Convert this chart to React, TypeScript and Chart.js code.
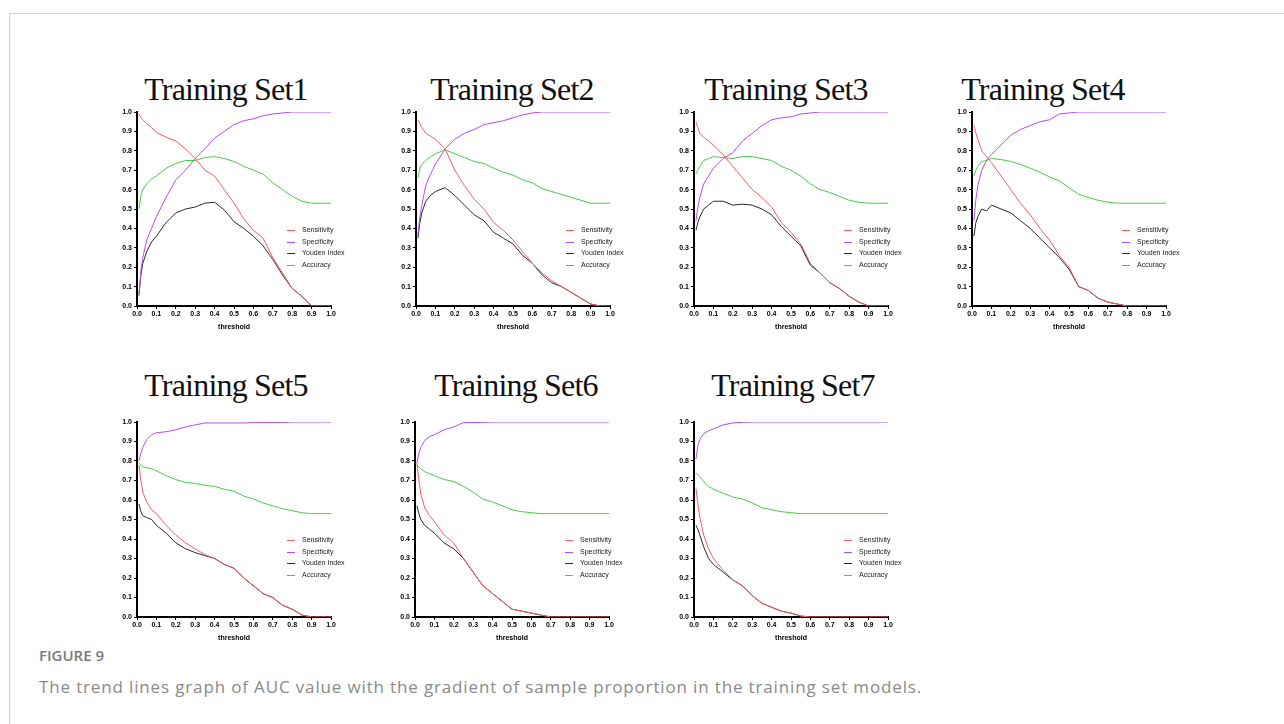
import React, { useEffect, useRef } from "react";
import { Chart, registerables } from "chart.js";

Chart.register(...registerables);

// ---------------- DATA ----------------
const THRESHOLDS = [0.01, 0.02, 0.03, 0.05, 0.075, 0.1, 0.15, 0.2, 0.25, 0.3, 0.35, 0.4, 0.45, 0.5, 0.55, 0.6, 0.65, 0.7, 0.75, 0.8, 0.85, 0.9, 0.95, 1.0];
const X_TICKS = [0, 0.1, 0.2, 0.3, 0.4, 0.5, 0.6, 0.7, 0.8, 0.9, 1.0];
const SERIES_LABELS = ["Sensitivity", "Specificity", "Youden Index", "Accuracy"];
const PANEL_TITLES = ["Training Set1", "Training Set2", "Training Set3", "Training Set4", "Training Set5", "Training Set6", "Training Set7"];

const SET1_SENS = [0.99, 0.97, 0.96, 0.94, 0.92, 0.895, 0.87, 0.85, 0.81, 0.76, 0.70, 0.67, 0.60, 0.53, 0.45, 0.39, 0.35, 0.25, 0.17, 0.09, 0.05, 0.0, 0, 0];
const SET1_SPEC = [0.05, 0.18, 0.25, 0.34, 0.40, 0.46, 0.56, 0.65, 0.70, 0.76, 0.81, 0.866, 0.90, 0.935, 0.955, 0.965, 0.98, 0.99, 0.995, 1, 1, 1, 1, 1];
const SET1_YOUDEN = [0.06, 0.16, 0.22, 0.28, 0.33, 0.36, 0.43, 0.48, 0.50, 0.51, 0.53, 0.535, 0.495, 0.435, 0.40, 0.36, 0.31, 0.24, 0.16, 0.09, 0.05, 0, 0, 0];
const SET1_ACC = [0.50, 0.57, 0.60, 0.63, 0.655, 0.67, 0.71, 0.735, 0.75, 0.75, 0.765, 0.77, 0.76, 0.745, 0.72, 0.70, 0.68, 0.635, 0.60, 0.565, 0.54, 0.53, 0.53, 0.53];

const SET2_SENS = [0.96, 0.94, 0.92, 0.89, 0.875, 0.86, 0.81, 0.70, 0.62, 0.55, 0.50, 0.43, 0.39, 0.34, 0.28, 0.22, 0.17, 0.13, 0.10, 0.07, 0.04, 0.01, 0, 0];
const SET2_SPEC = [0.37, 0.46, 0.52, 0.62, 0.68, 0.73, 0.81, 0.86, 0.89, 0.91, 0.935, 0.945, 0.955, 0.97, 0.985, 0.995, 1, 1, 1, 1, 1, 1, 1, 1];
const SET2_YOUDEN = [0.35, 0.43, 0.48, 0.54, 0.57, 0.59, 0.61, 0.57, 0.52, 0.47, 0.44, 0.38, 0.35, 0.32, 0.26, 0.22, 0.16, 0.12, 0.10, 0.07, 0.04, 0.01, 0, 0];
const SET2_ACC = [0.66, 0.71, 0.73, 0.75, 0.77, 0.785, 0.805, 0.785, 0.765, 0.745, 0.735, 0.71, 0.69, 0.675, 0.65, 0.635, 0.605, 0.59, 0.575, 0.56, 0.545, 0.53, 0.53, 0.53];

const SET3_SENS = [0.95, 0.92, 0.89, 0.87, 0.85, 0.83, 0.78, 0.72, 0.66, 0.60, 0.56, 0.51, 0.43, 0.38, 0.32, 0.22, 0.17, 0.12, 0.09, 0.05, 0.02, 0, 0, 0];
const SET3_SPEC = [0.44, 0.51, 0.56, 0.63, 0.67, 0.71, 0.76, 0.79, 0.85, 0.89, 0.93, 0.96, 0.97, 0.975, 0.99, 0.995, 1, 1, 1, 1, 1, 1, 1, 1];
const SET3_YOUDEN = [0.39, 0.43, 0.46, 0.50, 0.52, 0.54, 0.54, 0.52, 0.525, 0.52, 0.50, 0.47, 0.41, 0.36, 0.31, 0.21, 0.17, 0.12, 0.09, 0.05, 0.02, 0, 0, 0];
const SET3_ACC = [0.68, 0.70, 0.72, 0.75, 0.76, 0.77, 0.765, 0.76, 0.77, 0.77, 0.76, 0.75, 0.72, 0.70, 0.67, 0.63, 0.60, 0.585, 0.565, 0.545, 0.535, 0.53, 0.53, 0.53];

const SET4_SENS = [0.93, 0.89, 0.86, 0.80, 0.77, 0.74, 0.67, 0.60, 0.53, 0.47, 0.40, 0.34, 0.26, 0.20, 0.10, 0.08, 0.04, 0.02, 0.01, 0, 0, 0, 0, 0];
const SET4_SPEC = [0.44, 0.55, 0.62, 0.70, 0.75, 0.78, 0.83, 0.88, 0.91, 0.93, 0.95, 0.96, 0.99, 0.995, 1, 1, 1, 1, 1, 1, 1, 1, 1, 1];
const SET4_YOUDEN = [0.36, 0.43, 0.46, 0.50, 0.49, 0.52, 0.50, 0.48, 0.44, 0.40, 0.35, 0.30, 0.25, 0.19, 0.10, 0.08, 0.04, 0.02, 0.01, 0, 0, 0, 0, 0];
const SET4_ACC = [0.67, 0.70, 0.72, 0.745, 0.75, 0.76, 0.755, 0.745, 0.73, 0.71, 0.69, 0.665, 0.645, 0.61, 0.575, 0.56, 0.545, 0.535, 0.53, 0.53, 0.53, 0.53, 0.53, 0.53];

const SET5_SENS = [0.78, 0.70, 0.64, 0.59, 0.55, 0.53, 0.47, 0.42, 0.38, 0.35, 0.32, 0.30, 0.27, 0.25, 0.20, 0.16, 0.12, 0.10, 0.06, 0.04, 0.01, 0, 0, 0];
const SET5_SPEC = [0.80, 0.84, 0.87, 0.91, 0.935, 0.945, 0.95, 0.96, 0.975, 0.985, 0.995, 0.995, 0.995, 0.995, 0.995, 0.997, 0.997, 0.997, 0.997, 1, 1, 1, 1, 1];
const SET5_YOUDEN = [0.58, 0.54, 0.52, 0.51, 0.50, 0.47, 0.43, 0.38, 0.35, 0.33, 0.315, 0.30, 0.27, 0.25, 0.20, 0.16, 0.12, 0.10, 0.06, 0.04, 0.01, 0, 0, 0];
const SET5_ACC = [0.79, 0.78, 0.77, 0.765, 0.76, 0.75, 0.725, 0.705, 0.69, 0.685, 0.675, 0.67, 0.655, 0.645, 0.62, 0.605, 0.585, 0.57, 0.555, 0.545, 0.535, 0.53, 0.53, 0.53];

const SET6_SENS = [0.79, 0.70, 0.63, 0.56, 0.52, 0.49, 0.42, 0.38, 0.30, 0.23, 0.16, 0.12, 0.08, 0.04, 0.03, 0.02, 0.01, 0, 0, 0, 0, 0, 0, 0];
const SET6_SPEC = [0.79, 0.84, 0.87, 0.905, 0.925, 0.935, 0.96, 0.975, 0.997, 0.997, 0.998, 1, 1, 1, 1, 1, 1, 1, 1, 1, 1, 1, 1, 1];
const SET6_YOUDEN = [0.57, 0.53, 0.50, 0.47, 0.45, 0.43, 0.38, 0.35, 0.30, 0.23, 0.16, 0.12, 0.08, 0.04, 0.03, 0.02, 0.01, 0, 0, 0, 0, 0, 0, 0];
const SET6_ACC = [0.78, 0.77, 0.76, 0.745, 0.735, 0.725, 0.705, 0.695, 0.67, 0.64, 0.605, 0.59, 0.57, 0.55, 0.54, 0.535, 0.53, 0.53, 0.53, 0.53, 0.53, 0.53, 0.53, 0.53];

const SET7_SENS = [0.66, 0.58, 0.51, 0.42, 0.35, 0.30, 0.24, 0.19, 0.16, 0.11, 0.07, 0.05, 0.03, 0.02, 0.005, 0, 0, 0, 0, 0, 0, 0, 0, 0];
const SET7_SPEC = [0.81, 0.88, 0.91, 0.94, 0.955, 0.965, 0.985, 0.995, 0.998, 1, 1, 1, 1, 1, 1, 1, 1, 1, 1, 1, 1, 1, 1, 1];
const SET7_YOUDEN = [0.47, 0.45, 0.42, 0.36, 0.30, 0.27, 0.23, 0.19, 0.16, 0.11, 0.07, 0.05, 0.03, 0.02, 0.005, 0, 0, 0, 0, 0, 0, 0, 0, 0];
const SET7_ACC = [0.74, 0.73, 0.72, 0.695, 0.67, 0.655, 0.635, 0.615, 0.605, 0.585, 0.56, 0.55, 0.54, 0.535, 0.53, 0.53, 0.53, 0.53, 0.53, 0.53, 0.53, 0.53, 0.53, 0.53];

const ALL_SERIES = [
  [SET1_SENS, SET1_SPEC, SET1_YOUDEN, SET1_ACC],
  [SET2_SENS, SET2_SPEC, SET2_YOUDEN, SET2_ACC],
  [SET3_SENS, SET3_SPEC, SET3_YOUDEN, SET3_ACC],
  [SET4_SENS, SET4_SPEC, SET4_YOUDEN, SET4_ACC],
  [SET5_SENS, SET5_SPEC, SET5_YOUDEN, SET5_ACC],
  [SET6_SENS, SET6_SPEC, SET6_YOUDEN, SET6_ACC],
  [SET7_SENS, SET7_SPEC, SET7_YOUDEN, SET7_ACC],
];

// ---------------- LAYOUT / STYLE ----------------
const SERIES_COLORS = ["#f85c5c", "#b84af2", "#2a2a2a", "#45cc45"];
const PLOT_LEFTS = [137, 416, 694, 972, 137, 415, 694];
const PLOT_TOPS = [112, 112, 112, 112, 422, 422, 422];
const PLOT_HEIGHTS = [194, 194, 194, 194, 195, 195, 195];
const TITLE_CENTERS = [226, 512, 786, 1043, 226, 516, 793];
const TITLE_BASELINES = [100, 100, 100, 100, 396, 396, 396];
const PLOT_W = 194;
const Y_AXIS_W = 30;
const X_AXIS_H = 25;
const PAD_TOP = 8;
const PAD_RIGHT = 34;
const SANS = '"Liberation Sans", Arial, sans-serif';

const insideLegend = {
  id: "insideLegend",
  afterDatasetsDraw(chart: any) {
    const { ctx, chartArea } = chart;
    ctx.save();
    ctx.font = `7px ${SANS}`;
    ctx.textBaseline = "middle";
    ctx.textAlign = "left";
    chart.data.datasets.forEach((ds: any, i: number) => {
      const y = Math.round(chartArea.top + 118 + i * 11.5) + 0.5;
      ctx.strokeStyle = ds.borderColor;
      ctx.lineWidth = 1;
      ctx.beginPath();
      ctx.moveTo(chartArea.left + 150, y);
      ctx.lineTo(chartArea.left + 158, y);
      ctx.stroke();
      ctx.fillStyle = "#222";
      ctx.fillText(ds.label, chartArea.left + 165, y);
    });
    ctx.restore();
  },
};

function Panel({ index }: { index: number }) {
  const ref = useRef<HTMLCanvasElement | null>(null);
  const W = Y_AXIS_W + PLOT_W + PAD_RIGHT;
  const H = PAD_TOP + PLOT_HEIGHTS[index] + X_AXIS_H;

  useEffect(() => {
    const series = ALL_SERIES[index];
    const tickFont = { family: SANS, size: 7, weight: "bold" as const };
    const chart = new Chart(ref.current as HTMLCanvasElement, {
      type: "line",
      data: {
        datasets: SERIES_LABELS.map((label, i) => ({
          label,
          data: THRESHOLDS.map((t, k) => ({ x: t, y: series[i][k] })),
          borderColor: SERIES_COLORS[i],
          backgroundColor: SERIES_COLORS[i],
          borderWidth: 1,
          pointRadius: 0,
          tension: 0,
          fill: false,
        })),
      },
      options: {
        animation: false,
        responsive: false,
        devicePixelRatio: 1,
        layout: { padding: { top: PAD_TOP, right: PAD_RIGHT, left: 0, bottom: 0 } },
        plugins: { legend: { display: false }, tooltip: { enabled: false }, title: { display: false } },
        scales: {
          x: {
            type: "linear",
            min: 0,
            max: 1,
            afterBuildTicks: (s: any) => {
              s.ticks = X_TICKS.map((v) => ({ value: v }));
            },
            ticks: {
              callback: (v: any) => Number(v).toFixed(1),
              font: tickFont,
              color: "#000",
              padding: 1,
              maxRotation: 0,
              autoSkip: false,
            },
            grid: { display: true, drawOnChartArea: false, drawTicks: true, tickLength: 3, tickColor: "#000", tickWidth: 1 },
            border: { display: true, color: "#000", width: 2 },
            title: { display: true, text: "threshold", font: tickFont, color: "#000", padding: { top: 2, bottom: 0 } },
            afterFit: (s: any) => {
              s.height = X_AXIS_H;
            },
          },
          y: {
            type: "linear",
            min: 0,
            max: 1,
            afterBuildTicks: (s: any) => {
              s.ticks = X_TICKS.map((v) => ({ value: v }));
            },
            ticks: {
              callback: (v: any) => Number(v).toFixed(1),
              font: tickFont,
              color: "#000",
              padding: 2,
              autoSkip: false,
            },
            grid: { display: true, drawOnChartArea: false, drawTicks: true, tickLength: 3, tickColor: "#000", tickWidth: 1 },
            border: { display: true, color: "#000", width: 2 },
            afterFit: (s: any) => {
              s.width = Y_AXIS_W;
            },
          },
        },
      },
      plugins: [insideLegend],
    } as any);
    return () => chart.destroy();
  }, [index]);

  return (
    <canvas
      ref={ref}
      width={W}
      height={H}
      style={{ position: "absolute", left: PLOT_LEFTS[index] - Y_AXIS_W, top: PLOT_TOPS[index] - PAD_TOP, width: W, height: H }}
    />
  );
}

export default function App() {
  return (
    <div style={{ position: "absolute", left: 0, top: 0, width: 1284, height: 724, overflow: "hidden", background: "#fff" }}>
      <div
        style={{
          position: "absolute",
          left: 9,
          top: 13,
          width: 1275,
          height: 711,
          boxSizing: "border-box",
          borderTop: "1px solid #d2d2d2",
          borderLeft: "1px solid #d2d2d2",
        }}
      />
      {PANEL_TITLES.map((t, i) => (
        <div
          key={t}
          style={{
            position: "absolute",
            left: TITLE_CENTERS[i] - 120,
            width: 240,
            top: TITLE_BASELINES[i] - 26.8,
            textAlign: "center",
            fontFamily: '"Liberation Serif", "DejaVu Serif", serif',
            fontSize: 32,
            lineHeight: "32px",
            letterSpacing: "-0.8px",
            color: "#111",
            whiteSpace: "nowrap",
          }}
        >
          {t}
        </div>
      ))}
      {PANEL_TITLES.map((t, i) => (
        <Panel key={"p" + i} index={i} />
      ))}
      <div
        style={{
          position: "absolute",
          left: 39,
          top: 645,
          fontFamily: '"Open Sans", sans-serif',
          fontSize: 15,
          lineHeight: "20px",
          fontWeight: 600,
          color: "#7a7a7a",
          whiteSpace: "nowrap",
        }}
      >
        FIGURE 9
      </div>
      <div
        style={{
          position: "absolute",
          left: 39,
          top: 675.5,
          fontFamily: '"Open Sans", sans-serif',
          fontSize: 17,
          lineHeight: "22px",
          fontWeight: 400,
          letterSpacing: "0.85px",
          color: "#8a8a8a",
          whiteSpace: "nowrap",
        }}
      >
        The trend lines graph of AUC value with the gradient of sample proportion in the training set models.
      </div>
    </div>
  );
}
